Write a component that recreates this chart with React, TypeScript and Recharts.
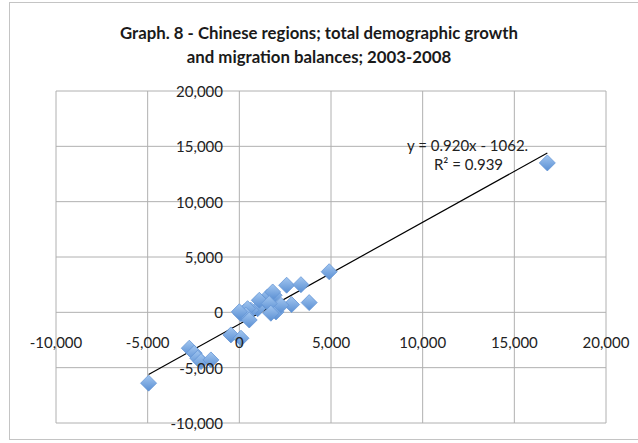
import React from 'react';
import { ScatterChart, Scatter, XAxis, YAxis, CartesianGrid, ReferenceLine, ReferenceDot } from 'recharts';

const titleLines = ['Graph. 8 - Chinese regions; total demographic growth', 'and migration balances; 2003-2008'];

const growthValues = [16800, -4950, -2730, -2460, -2270, -2090, -1550, -460, 90, 4900, 2580, 3360, 3810, 2850, 1900, 1540, 1820, 1270, 2000, 2270, 1000, 630, 270, 90, 450, 360, 1090, 1630, 540, 1720, 0];
const migrationValues = [13500, -6400, -3240, -3690, -4140, -4450, -4300, -2040, -2340, 3670, 2450, 2500, 880, 700, 1540, 1390, 1840, 790, 40, 640, 330, 190, 40, -120, 330, -260, 1090, 790, -690, -80, 50];

const axisTicks = [-10000, -5000, 0, 5000, 10000, 15000, 20000];
const trendSlope = 0.92;
const trendIntercept = -1062;
const trendText = 'y = 0.920x - 1062.';
const r2Text = 'R² = 0.939';

const points = growthValues.map((g, i) => ({ x: g, y: migrationValues[i] }));
const xMin = Math.min(...growthValues);
const xMax = Math.max(...growthValues);
const segment = [
  { x: xMin, y: trendSlope * xMin + trendIntercept },
  { x: xMax, y: trendSlope * xMax + trendIntercept },
];

const FONT = 'Lato, "Open Sans", sans-serif';
const fmt = (v: number) => v.toLocaleString('en-US');

const XTick = (props: any) => (
  <text x={props.x} y={props.y - 89.5} textAnchor="middle" dominantBaseline="central" fontSize={15} fill="#222" fontFamily={FONT}>
    {fmt(props.payload.value)}
  </text>
);

const YTick = (props: any) => (
  <text x={props.x + 175} y={props.y} textAnchor="end" dominantBaseline="central" fontSize={15} fill="#222" fontFamily={FONT}>
    {fmt(props.payload.value)}
  </text>
);

const Diamond = (props: any) => {
  const { cx, cy } = props;
  const h = 8;
  return (
    <polygon
      points={`${cx},${cy - h} ${cx + h},${cy} ${cx},${cy + h} ${cx - h},${cy}`}
      fill="url(#diamondGrad)"
      stroke="#6496d6"
      strokeWidth={0.8}
    />
  );
};

export default function App() {
  return (
    <div style={{ position: 'absolute', left: 0, top: 0, width: 638, height: 443, background: '#fff', overflow: 'hidden' }}>
      <div style={{ position: 'absolute', left: 9, top: 2, width: 660, height: 438, border: '1px solid #c4c4c4', boxSizing: 'border-box' }} />
      <div style={{ position: 'absolute', left: 0, top: 21, width: 638, textAlign: 'center', fontFamily: FONT, fontWeight: 700, fontSize: 16.8, lineHeight: '24px', color: '#1a1a1a' }}>
        {titleLines.map((t) => (
          <div key={t}>{t}</div>
        ))}
      </div>
      <div style={{ position: 'absolute', left: 0, top: 0 }}>
        <ScatterChart width={638} height={443} margin={{ top: 91, right: 32, bottom: 0, left: 0 }}>
          <defs>
            <linearGradient id="diamondGrad" x1="0" y1="0" x2="0" y2="1">
              <stop offset="0%" stopColor="#a2c6f0" />
              <stop offset="100%" stopColor="#5a8fd3" />
            </linearGradient>
          </defs>
          <CartesianGrid stroke="#b0b0b0" strokeWidth={1} />
          <XAxis
            type="number"
            dataKey="x"
            domain={[-10000, 20000]}
            ticks={axisTicks}
            height={20}
            axisLine={false}
            tickLine={false}
            tick={<XTick />}
            interval={0}
          />
          <YAxis
            type="number"
            dataKey="y"
            domain={[-10000, 20000]}
            ticks={axisTicks}
            width={56}
            axisLine={false}
            tickLine={false}
            tick={<YTick />}
            interval={0}
          />
          <ReferenceLine segment={segment} stroke="#000" strokeWidth={1.2} ifOverflow="visible" />
          <Scatter data={points} shape={<Diamond />} isAnimationActive={false} />
          <ReferenceDot x={12450} y={15100} r={0} fill="none" stroke="none" label={{ value: trendText, position: 'center', fill: '#222', fontSize: 15, fontFamily: FONT }} />
          <ReferenceDot x={12500} y={13300} r={0} fill="none" stroke="none" label={{ value: r2Text, position: 'center', fill: '#222', fontSize: 15, fontFamily: FONT }} />
        </ScatterChart>
      </div>
    </div>
  );
}
